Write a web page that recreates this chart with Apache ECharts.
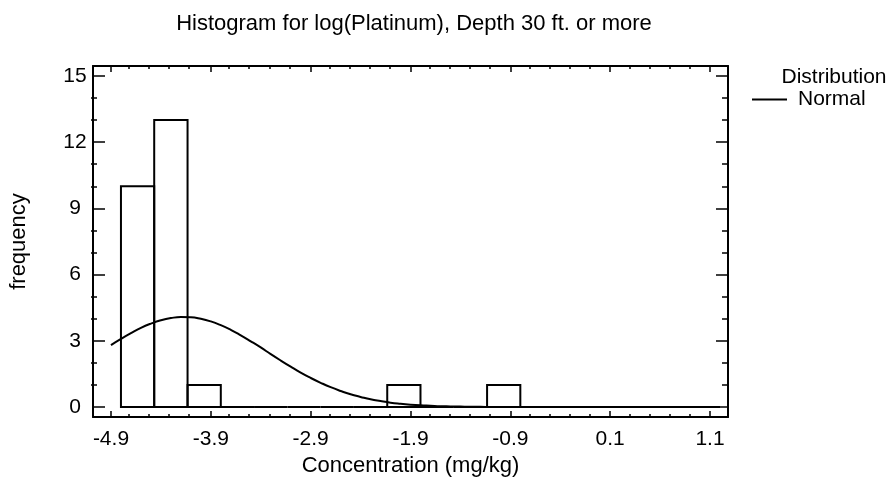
<!DOCTYPE html>
<html>
<head>
<meta charset="utf-8">
<script src="https://cdn.jsdelivr.net/npm/echarts@6/dist/echarts.min.js"></script>
<style>
  html, body { margin: 0; padding: 0; background: #fff; }
  #chart { width: 889px; height: 489px; }
</style>
</head>
<body>
<div id="chart"></div>
<script>
// ---- data ----
const classLower = [-4.8, -4.467, -4.133, -3.8, -3.467, -3.133, -2.8, -2.467, -2.133,
                    -1.8, -1.467, -1.133, -0.8, -0.467, -0.133, 0.2, 0.533, 0.867];
const classUpper = [-4.467, -4.133, -3.8, -3.467, -3.133, -2.8, -2.467, -2.133, -1.8,
                    -1.467, -1.133, -0.8, -0.467, -0.133, 0.2, 0.533, 0.867, 1.2];
const frequency = [10, 13, 1, 0, 0, 0, 0, 0, 1, 0, 0, 1, 0, 0, 0, 0, 0, 0];

const normalX = [-4.9, -4.8, -4.7, -4.6, -4.5, -4.4, -4.3, -4.2, -4.1, -4.0,
                 -3.9, -3.8, -3.7, -3.6, -3.5, -3.4, -3.3, -3.2, -3.1, -3.0,
                 -2.9, -2.8, -2.7, -2.6, -2.5, -2.4, -2.3, -2.2, -2.1, -2.0,
                 -1.9, -1.8, -1.7, -1.6, -1.5, -1.4, -1.3, -1.2, -1.1, -1.0,
                 -0.5, 0.0, 0.5, 1.1];
const normalY = [2.81, 3.09, 3.35, 3.59, 3.78, 3.93, 4.03, 4.08, 4.07, 4.00,
                 3.88, 3.71, 3.50, 3.25, 2.98, 2.70, 2.40, 2.11, 1.83, 1.56,
                 1.32, 1.10, 0.90, 0.73, 0.58, 0.46, 0.35, 0.27, 0.20, 0.15,
                 0.11, 0.08, 0.06, 0.04, 0.03, 0.02, 0.01, 0.01, 0.0, 0.0,
                 0.0, 0.0, 0.0, 0.0];

const xMajorTicks = [-4.9, -3.9, -2.9, -1.9, -0.9, 0.1, 1.1];
const xMinorTicks = [-4.7, -4.5, -4.3, -4.1, -3.7, -3.5, -3.3, -3.1, -2.7, -2.5, -2.3, -2.1,
                     -1.7, -1.5, -1.3, -1.1, -0.7, -0.5, -0.3, -0.1, 0.3, 0.5, 0.7, 0.9];
const yMajorTicks = [0, 3, 6, 9, 12, 15];
const yMinorTicks = [1, 2, 4, 5, 7, 8, 10, 11, 13, 14];

const titleText = 'Histogram for log(Platinum), Depth 30 ft. or more';
const xName = 'Concentration (mg/kg)';
const yName = 'frequency';
const legendHeader = 'Distribution';
const seriesName = 'Normal';

// ---- chart ----
const FONT = 'Liberation Sans, Arial, sans-serif';
const FS = 21;
const FS_BIG = 22;
const X_MIN = -5.08, X_MAX = 1.28, Y_MIN = -0.45, Y_MAX = 15.45;
const gridRect = { left: 91, top: 66, width: 637, height: 351 };

function xAxisDef(gridIndex, position, ticks, len, showLabel, showLine) {
  return {
    type: 'value', gridIndex, position, min: X_MIN, max: X_MAX,
    axisLine: { show: showLine, onZero: false, lineStyle: { color: '#000', width: 2 } },
    axisTick: { show: true, inside: true, length: len, customValues: ticks,
                lineStyle: { color: '#000', width: 1.5 } },
    axisLabel: { show: showLabel, customValues: ticks, color: '#000', fontSize: FS,
                 fontFamily: FONT, margin: 12, formatter: v => v.toFixed(1) },
    splitLine: { show: false }
  };
}
function yAxisDef(gridIndex, position, ticks, len, showLabel, showLine) {
  return {
    type: 'value', gridIndex, position, min: Y_MIN, max: Y_MAX,
    axisLine: { show: showLine, onZero: false, lineStyle: { color: '#000', width: 2 } },
    axisTick: { show: true, inside: true, length: len, customValues: ticks,
                lineStyle: { color: '#000', width: 1.5 } },
    axisLabel: { show: showLabel, customValues: ticks, color: '#000', fontSize: FS,
                 fontFamily: FONT, align: 'center', margin: 18 },
    splitLine: { show: false }
  };
}

const histData = classLower.map((lo, i) => [lo, classUpper[i], frequency[i]]);
const curveData = normalX.map((x, i) => [x, normalY[i]]);

const chart = echarts.init(document.getElementById('chart'), null, { renderer: 'canvas' });
chart.setOption({
  backgroundColor: '#fff',
  animation: false,
  textStyle: { fontFamily: FONT },
  title: [
    { text: titleText, left: 409, top: 8, textAlign: 'center',
      textStyle: { fontSize: FS_BIG, fontWeight: 'normal', color: '#000', fontFamily: FONT } },
    { text: legendHeader, left: 829, top: 62, textAlign: 'center',
      textStyle: { fontSize: FS, fontWeight: 'normal', color: '#000', fontFamily: FONT } }
  ],
  legend: {
    data: [seriesName], left: 752, top: 89, icon: 'rect', itemWidth: 35, itemHeight: 2,
    itemGap: 6, padding: 0,
    textStyle: { fontSize: FS, color: '#000', fontFamily: FONT, padding: [0, 0, 0, 6] }
  },
  grid: [Object.assign({}, gridRect), Object.assign({}, gridRect)],
  xAxis: [
    Object.assign(xAxisDef(0, 'bottom', xMajorTicks, 6, true, true),
      { name: xName, nameLocation: 'middle', nameGap: 38,
        nameTextStyle: { fontSize: FS_BIG, color: '#000', fontFamily: FONT } }),
    xAxisDef(0, 'top', xMajorTicks, 6, false, true),
    xAxisDef(1, 'bottom', xMinorTicks, 3, false, false),
    xAxisDef(1, 'top', xMinorTicks, 3, false, false)
  ],
  yAxis: [
    Object.assign(yAxisDef(0, 'left', yMajorTicks, 12, true, true),
      { name: yName, nameLocation: 'middle', nameGap: 63, nameRotate: 90,
        nameTextStyle: { fontSize: FS_BIG, color: '#000', fontFamily: FONT } }),
    yAxisDef(0, 'right', yMajorTicks, 12, false, true),
    yAxisDef(1, 'left', yMinorTicks, 6, false, false),
    yAxisDef(1, 'right', yMinorTicks, 6, false, false)
  ],
  series: [
    {
      type: 'custom', name: 'Histogram', xAxisIndex: 0, yAxisIndex: 0,
      data: histData, encode: { x: [0, 1], y: 2 },
      renderItem: function (params, api) {
        const p0 = api.coord([api.value(0), api.value(2)]);
        const p1 = api.coord([api.value(1), 0]);
        return {
          type: 'rect',
          shape: { x: p0[0], y: p0[1], width: p1[0] - p0[0], height: p1[1] - p0[1] },
          style: { fill: 'rgba(255,255,255,0)', stroke: '#000', lineWidth: 2 }
        };
      },
      z: 2
    },
    {
      type: 'line', name: seriesName, xAxisIndex: 0, yAxisIndex: 0,
      data: curveData, smooth: true, showSymbol: false,
      lineStyle: { color: '#000', width: 2 }, itemStyle: { color: '#000' }, z: 3
    }
  ]
});
</script>
</body>
</html>
